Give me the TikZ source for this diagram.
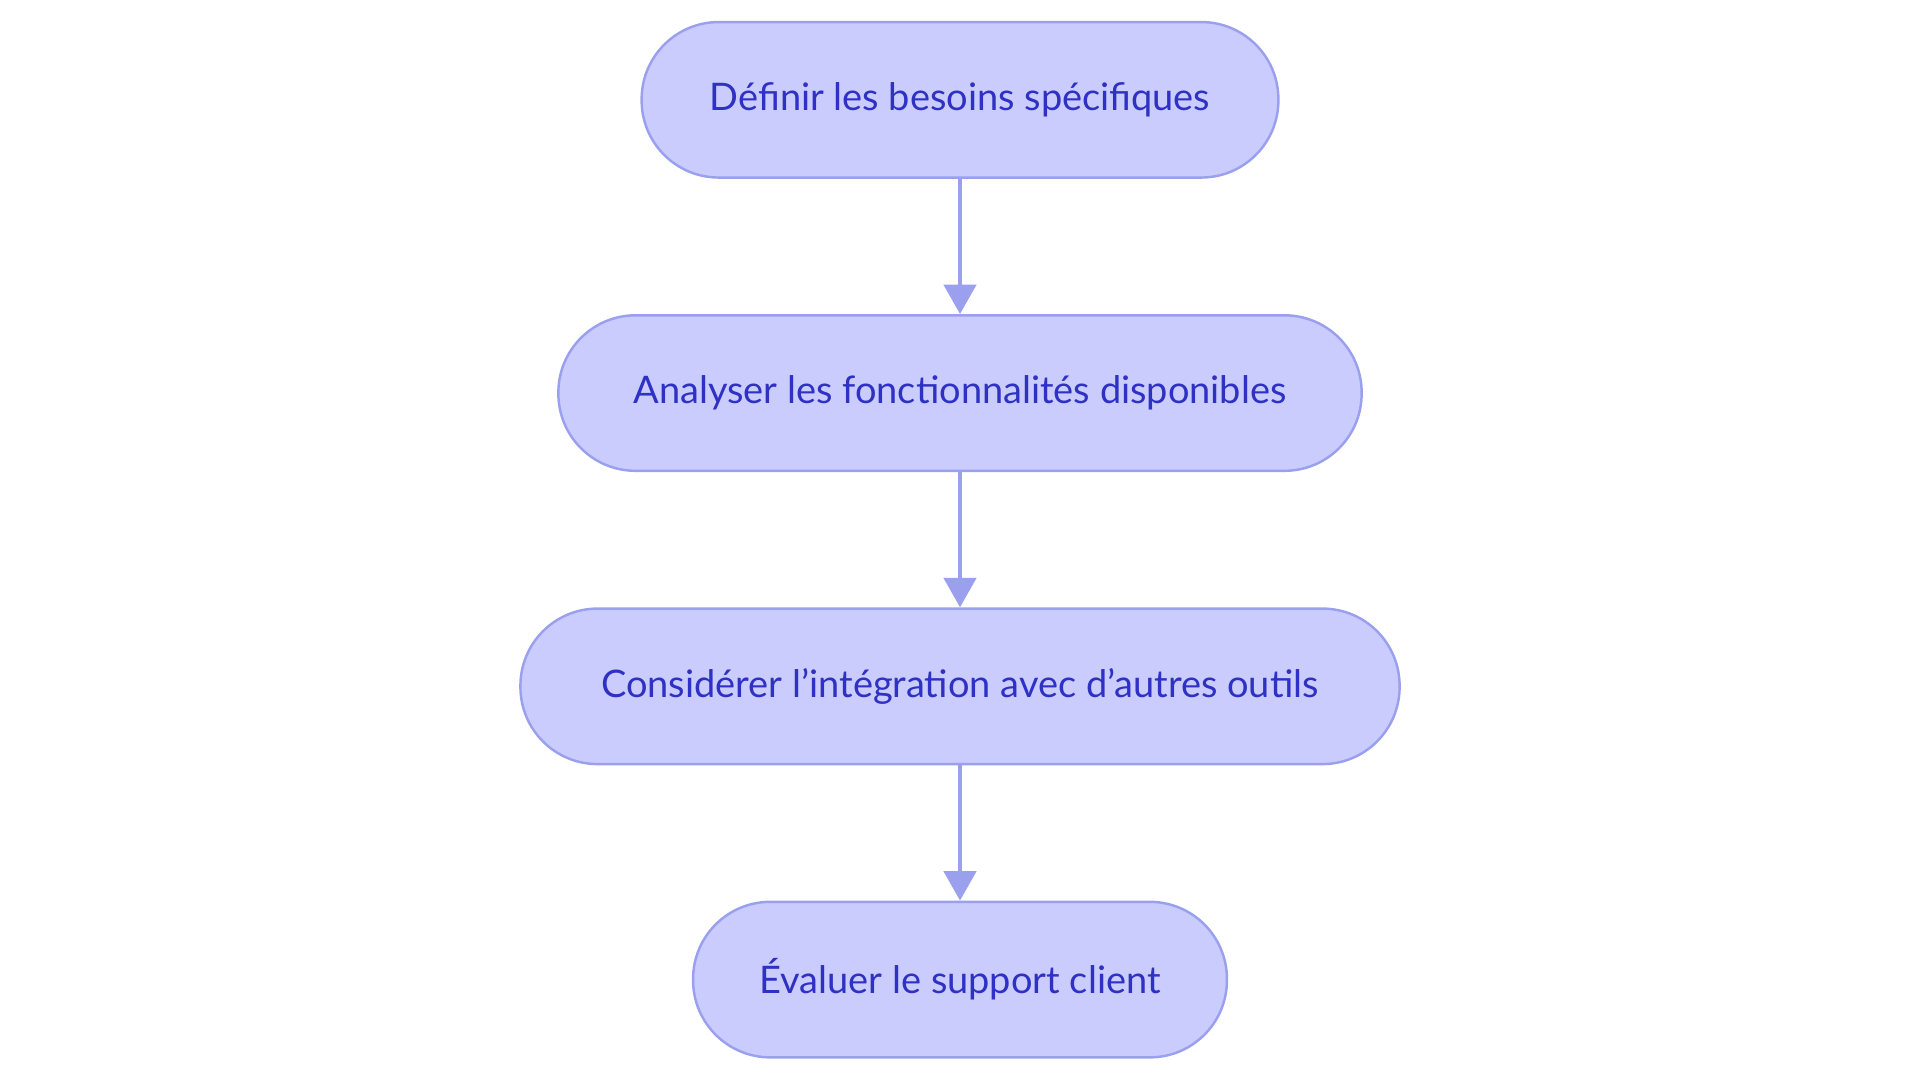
\documentclass[tikz,border=0pt]{standalone}
\usepackage{fontspec}
\setmainfont{Lato}
\usetikzlibrary{arrows.meta}
\definecolor{fillc}{HTML}{CACCFE}
\definecolor{linec}{HTML}{9A9FEE}
\definecolor{textc}{HTML}{2E31C4}
\begin{document}
\begin{tikzpicture}[x=0.5pt,y=-0.5pt,
  box/.style={draw=linec,fill=fillc,line width=1pt,rounded corners=31.5pt,minimum height=63.5pt,text=textc,font=\fontsize{15.5pt}{18pt}\selectfont,inner sep=0pt},
  arr/.style={draw=linec,line width=2pt,-{Triangle[length=12pt,width=13pt]}}]
\useasboundingbox (0,0) rectangle (1568,884);
\node[box,minimum width=260pt] (a) at (784,81.5) {Définir les besoins spécifiques};
\node[box,minimum width=328pt] (b) at (784,321) {Analyser les fonctionnalités disponibles};
\node[box,minimum width=359pt] (c) at (784,560.5) {Considérer l'intégration avec d'autres outils};
\node[box,minimum width=218pt] (d) at (784,800) {Évaluer le support client};
\draw[arr] (a) -- (b);
\draw[arr] (b) -- (c);
\draw[arr] (c) -- (d);
\end{tikzpicture}
\end{document}
